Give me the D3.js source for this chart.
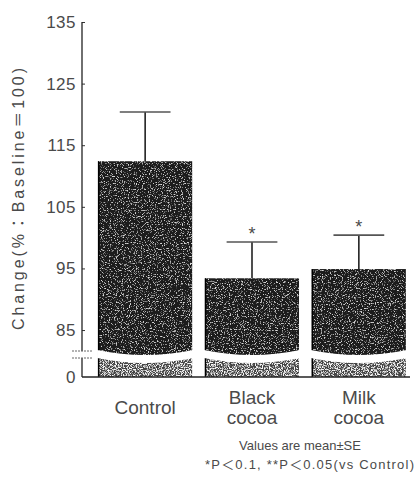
<!DOCTYPE html>
<html>
<head>
<meta charset="utf-8">
<script src="https://cdn.jsdelivr.net/npm/d3@7"></script>
<style>
  body { margin: 0; background: #fff; }
  text { font-family: "Liberation Sans", Arial, "Noto Sans CJK JP", sans-serif; fill: #4a4a4a; }
</style>
</head>
<body>
<script>
// data
const groups = ["Control", "Black cocoa", "Milk cocoa"];
const means = [112.4, 93.4, 94.9];
const errs = [8.0, 5.9, 5.5];
const marks = ["", "*", "*"];
const yTicks = [85, 95, 105, 115, 125, 135];

const W = 416, H = 479;
const svg = d3.select("body").append("svg")
    .attr("width", W)
    .attr("height", H);

// grain for the bars
const defs = svg.append("defs");
function grain(id, speck, a, b) {
    const f = defs.append("filter").attr("id", id)
        .attr("x", 0).attr("y", 0).attr("width", 1).attr("height", 1);
    f.append("feTurbulence").attr("type", "fractalNoise")
        .attr("baseFrequency", 0.85).attr("numOctaves", 2).attr("seed", 5).attr("result", "n");
    f.append("feColorMatrix").attr("in", "n").attr("type", "matrix")
        .attr("values", `0 0 0 0 ${speck}  0 0 0 0 ${speck}  0 0 0 0 ${speck}  ${a} 0 0 0 ${b}`)
        .attr("result", "sp");
    f.append("feComposite").attr("in", "sp").attr("in2", "SourceGraphic").attr("operator", "atop");
}
grain("grainDark", 0.7, 5, -2.85);
grain("grainLight", 0.95, 5, -2.3);

// broken axis: lower part squeezed
const y = d3.scaleLinear()
    .domain([0, 81.5, 135])
    .range([377, 351.6, 22]);

const x = d3.scaleBand()
    .domain(groups)
    .range([96, 408])
    .paddingInner(0.12)
    .paddingOuter(0.02);

const axisX = 82;
const breakTop = 350, breakBot = 358;

// bars
const bars = svg.append("g");
groups.forEach((g, i) => {
    const x0 = x(g), bw = x.bandwidth();
    // upper piece
    bars.append("rect")
        .attr("x", x0).attr("y", y(means[i]))
        .attr("width", bw).attr("height", breakTop + 6 - y(means[i]))
        .attr("fill", "#1c1c1c")
        .attr("filter", "url(#grainDark)");
    // lower piece
    bars.append("rect")
        .attr("x", x0).attr("y", breakBot - 2)
        .attr("width", bw).attr("height", y(0) - breakBot + 2)
        .attr("fill", "#444")
        .attr("filter", "url(#grainLight)");
    // black edge on the left
    bars.append("line")
        .attr("x1", x0 + 0.5).attr("x2", x0 + 0.5)
        .attr("y1", y(means[i])).attr("y2", y(0))
        .attr("stroke", "#000").attr("stroke-width", 1.5);
    // wavy white gap
    const wave = d3.path();
    wave.moveTo(x0 - 1, breakTop);
    wave.quadraticCurveTo(x0 + bw / 2, breakTop + 10, x0 + bw + 1, breakTop);
    wave.lineTo(x0 + bw + 1, breakBot);
    wave.quadraticCurveTo(x0 + bw / 2, breakBot + 10, x0 - 1, breakBot);
    wave.closePath();
    bars.append("path").attr("d", wave.toString()).attr("fill", "#fff");

    // error bar
    const cx = x0 + bw / 2;
    svg.append("line")
        .attr("x1", cx).attr("x2", cx)
        .attr("y1", y(means[i])).attr("y2", y(means[i] + errs[i]))
        .attr("stroke", "#222").attr("stroke-width", 1.6);
    svg.append("line")
        .attr("x1", cx - bw * 0.27).attr("x2", cx + bw * 0.27)
        .attr("y1", y(means[i] + errs[i])).attr("y2", y(means[i] + errs[i]))
        .attr("stroke", "#555").attr("stroke-width", 1.6);
    if (marks[i]) {
        svg.append("text")
            .attr("x", cx).attr("y", y(means[i] + errs[i]) - 2)
            .attr("text-anchor", "middle")
            .attr("font-size", 18)
            .text(marks[i]);
    }
});

// y axis (upper piece)
const ya = svg.append("g")
    .attr("transform", "translate(" + axisX + ",0)")
    .call(d3.axisRight(y).tickValues(yTicks).tickSize(3).tickFormat(""));
ya.select(".domain").remove();
ya.selectAll(".tick line").attr("stroke", "#333");
svg.append("line")
    .attr("x1", axisX).attr("x2", axisX)
    .attr("y1", y(135)).attr("y2", breakTop + 1)
    .attr("stroke", "#222").attr("stroke-width", 1.3);
svg.append("line")
    .attr("x1", axisX).attr("x2", axisX)
    .attr("y1", breakBot).attr("y2", y(0))
    .attr("stroke", "#222").attr("stroke-width", 1.3);
// break marks
[breakTop + 1, breakBot].forEach(v => {
    svg.append("line")
        .attr("x1", axisX - 10).attr("x2", axisX + 10)
        .attr("y1", v).attr("y2", v)
        .attr("stroke", "#666").attr("stroke-width", 1)
        .attr("stroke-dasharray", "2,1");
});
// base line
svg.append("line")
    .attr("x1", axisX).attr("x2", 410)
    .attr("y1", y(0)).attr("y2", y(0))
    .attr("stroke", "#222").attr("stroke-width", 1.3);

// tick labels
yTicks.concat([0]).forEach(t => {
    svg.append("text")
        .attr("x", 76).attr("y", y(t) + 6)
        .attr("text-anchor", "end")
        .attr("font-size", 17)
        .attr("letter-spacing", 0.5)
        .attr("fill", "#666")
        .text(t);
});

// y title
svg.append("text")
    .attr("transform", "translate(24,199) rotate(-90)")
    .attr("text-anchor", "middle")
    .attr("font-size", 16)
    .attr("fill", "#555")
    .attr("textLength", 262)
    .attr("lengthAdjust", "spacing")
    .text("Change(%：Baseline＝100)");

// category labels
groups.forEach((g, i) => {
    const cx = x(g) + x.bandwidth() / 2;
    const parts = g.split(" ");
    const t = svg.append("text")
        .attr("text-anchor", "middle")
        .attr("font-size", 19)
        .attr("fill", "#555");
    if (parts.length === 1) {
        t.append("tspan").attr("x", cx).attr("y", 414).text(parts[0]);
    } else {
        t.append("tspan").attr("x", cx).attr("y", 404).text(parts[0]);
        t.append("tspan").attr("x", cx).attr("y", 424).text(parts[1]);
    }
});

// footnote
svg.append("text")
    .attr("x", 300).attr("y", 450)
    .attr("text-anchor", "middle")
    .attr("font-size", 13)
    .attr("fill", "#666")
    .text("Values are mean±SE");
svg.append("text")
    .attr("x", 205).attr("y", 469)
    .attr("font-size", 13)
    .attr("fill", "#666")
    .attr("textLength", 209)
    .attr("lengthAdjust", "spacing")
    .text("*P＜0.1, **P＜0.05(vs Control)");
</script>
</body>
</html>
